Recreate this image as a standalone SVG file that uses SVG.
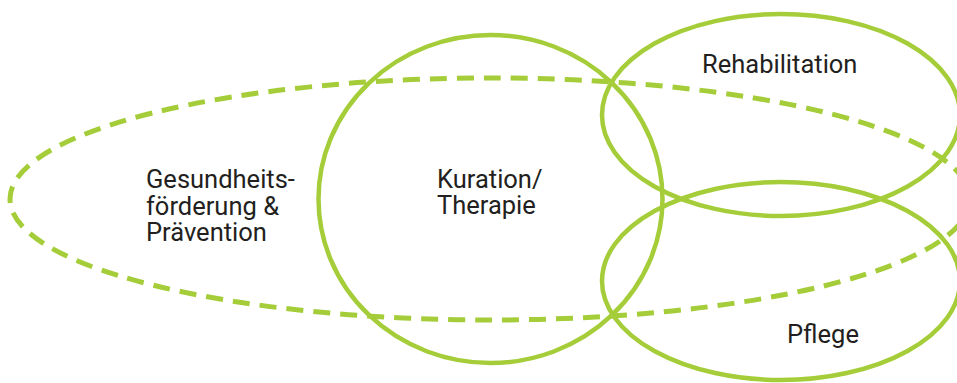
<svg xmlns="http://www.w3.org/2000/svg" width="957" height="383" viewBox="0 0 957 383">
  <style>
    .ring { fill: none; stroke: #a5cd39; stroke-width: 4.5; }
    .dash { fill: none; stroke: #a5cd39; stroke-width: 5; stroke-dasharray: 17 10; }
    .label { font-family: Roboto, "Liberation Sans", sans-serif; font-size: 25.5px; fill: #231f20; }
  </style>
  <rect width="957" height="383" fill="#ffffff"/>

  <!-- health promotion and prevention: dashed outer ellipse -->
  <g id="praevention">
    <ellipse class="dash" cx="490" cy="199" rx="480" ry="121"/>
    <text class="label" x="146" y="188">Gesundheits-</text>
    <text class="label" x="146" y="215">förderung &amp;</text>
    <text class="label" x="146" y="241">Prävention</text>
  </g>

  <!-- curative care / therapy -->
  <g id="kuration">
    <ellipse class="ring" cx="490.5" cy="199" rx="172" ry="164"/>
    <text class="label" x="437" y="188">Kuration/</text>
    <text class="label" x="437" y="214">Therapie</text>
  </g>

  <!-- rehabilitation -->
  <g id="rehabilitation">
    <ellipse class="ring" cx="781" cy="115" rx="179" ry="101"/>
    <text class="label" x="702" y="73">Rehabilitation</text>
  </g>

  <!-- nursing care -->
  <g id="pflege">
    <ellipse class="ring" cx="781" cy="281" rx="179" ry="99"/>
    <text class="label" x="787" y="343">Pflege</text>
  </g>

  <g id="connectors"></g>
</svg>
